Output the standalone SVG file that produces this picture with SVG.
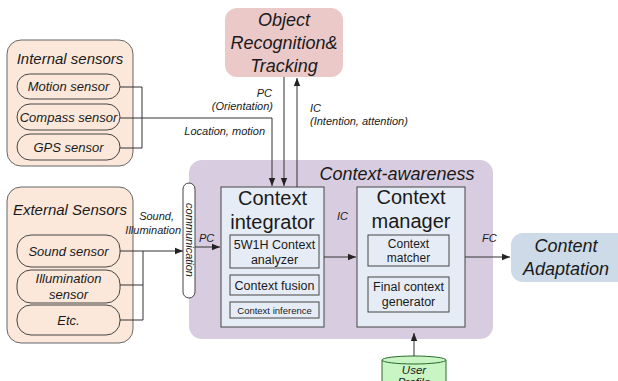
<svg xmlns="http://www.w3.org/2000/svg" width="618" height="381" viewBox="0 0 618 381">
  <style>
    text { font-family: "Liberation Sans", Arial, sans-serif; fill: #1a1a1a; }
    .it { font-style: italic; }
    .group { fill: #fbe8da; stroke: #666; stroke-width: 1; }
    .pill { fill: #fbe8da; stroke: #444; stroke-width: 1; }
    .module { fill: #e6ecf6; stroke: #444; stroke-width: 1; }
    .sub { fill: #e6ecf6; stroke: #444; stroke-width: 1; }
    .wire { fill: none; stroke: #333; stroke-width: 1; }
    .arrow { fill: none; stroke: #333; stroke-width: 1; marker-end: url(#head); }
    .lbl { font-size: 11px; font-style: italic; }
  </style>
  <defs>
    <marker id="head" viewBox="0 0 10 10" refX="10" refY="5" markerWidth="8" markerHeight="8" markerUnits="userSpaceOnUse" orient="auto">
      <path d="M0,1 L10,5 L0,9 z" fill="#222"/>
    </marker>
  </defs>

  <!-- Context-awareness container -->
  <g id="context-awareness">
    <rect x="189" y="160" width="304" height="179" rx="13" fill="#d8cde0"/>
    <text class="it" x="397" y="180" font-size="18" text-anchor="middle">Context-awareness</text>
  </g>

  <!-- Internal sensors -->
  <g id="internal-sensors">
    <rect class="group" x="7" y="40" width="126" height="126" rx="14"/>
    <text class="it" x="70" y="64" font-size="15" text-anchor="middle">Internal sensors</text>
    <rect class="pill" x="17" y="74" width="103" height="25" rx="12.5"/>
    <text class="it" x="68.5" y="91" font-size="13" text-anchor="middle">Motion sensor</text>
    <rect class="pill" x="17" y="104" width="103" height="26" rx="13"/>
    <text class="it" x="68.5" y="122" font-size="13" text-anchor="middle">Compass sensor</text>
    <rect class="pill" x="17" y="134" width="103" height="26" rx="13"/>
    <text class="it" x="68.5" y="152" font-size="13" text-anchor="middle">GPS sensor</text>
  </g>

  <!-- External sensors -->
  <g id="external-sensors">
    <rect class="group" x="7" y="187" width="126" height="156" rx="14"/>
    <text class="it" x="70" y="215" font-size="15" text-anchor="middle">External Sensors</text>
    <rect class="pill" x="17" y="235" width="103" height="32" rx="14"/>
    <text class="it" x="68.5" y="256" font-size="13" text-anchor="middle">Sound sensor</text>
    <rect class="pill" x="17" y="270" width="103" height="33" rx="14"/>
    <text class="it" x="68.5" y="283" font-size="13" text-anchor="middle">Illumination</text>
    <text class="it" x="68.5" y="299" font-size="13" text-anchor="middle">sensor</text>
    <rect class="pill" x="17" y="305" width="103" height="30" rx="14"/>
    <text class="it" x="68.5" y="325" font-size="13" text-anchor="middle">Etc.</text>
  </g>

  <!-- Object Recognition & Tracking -->
  <g id="object-recognition">
    <rect x="225" y="8" width="118" height="69" rx="12" fill="#ecc9c9"/>
    <text class="it" x="284" y="26" font-size="18" text-anchor="middle">Object</text>
    <text class="it" x="284" y="49" font-size="18" text-anchor="middle">Recognition&amp;</text>
    <text class="it" x="284" y="72" font-size="18" text-anchor="middle">Tracking</text>
  </g>

  <!-- Communication channel -->
  <g id="communication">
    <rect x="183" y="183" width="12" height="115" rx="6" fill="#ffffff" stroke="#444" stroke-width="1"/>
    <text class="it" font-size="11" text-anchor="middle" transform="translate(186,240) rotate(90)">communication</text>
  </g>

  <!-- Context integrator -->
  <g id="context-integrator">
    <rect class="module" x="221" y="187" width="103" height="140"/>
    <text x="272.5" y="205" font-size="20" text-anchor="middle">Context</text>
    <text x="272.5" y="229" font-size="20" text-anchor="middle">integrator</text>
    <rect class="sub" x="230" y="235" width="89" height="33"/>
    <text x="274.5" y="249" font-size="12.5" text-anchor="middle">5W1H Context</text>
    <text x="274.5" y="264" font-size="12.5" text-anchor="middle">analyzer</text>
    <rect class="sub" x="230" y="275" width="89" height="20"/>
    <text x="274.5" y="290" font-size="12.5" text-anchor="middle">Context fusion</text>
    <rect class="sub" x="230" y="302" width="89" height="16"/>
    <text x="274.5" y="314" font-size="9.5" text-anchor="middle">Context inference</text>
  </g>

  <!-- Context manager -->
  <g id="context-manager">
    <rect class="module" x="357" y="187" width="108" height="140"/>
    <text x="411" y="204" font-size="20" text-anchor="middle">Context</text>
    <text x="411" y="228" font-size="20" text-anchor="middle">manager</text>
    <rect class="sub" x="368" y="235" width="81" height="31"/>
    <text x="408.5" y="248" font-size="12" text-anchor="middle">Context</text>
    <text x="408.5" y="262" font-size="12" text-anchor="middle">matcher</text>
    <rect class="sub" x="368" y="277" width="81" height="35"/>
    <text x="408.5" y="291" font-size="12.5" text-anchor="middle">Final context</text>
    <text x="408.5" y="306" font-size="12.5" text-anchor="middle">generator</text>
  </g>

  <!-- Content Adaptation -->
  <g id="content-adaptation">
    <rect x="511" y="233" width="120" height="49" rx="12" fill="#cddae7"/>
    <text class="it" x="566" y="252" font-size="18" text-anchor="middle">Content</text>
    <text class="it" x="566" y="275" font-size="18" text-anchor="middle">Adaptation</text>
  </g>

  <!-- User Profile store -->
  <g id="user-profile">
    <path d="M382,360 L382,390 L446,390 L446,360" fill="#c8f5c3" stroke="#2a6a2a" stroke-width="1"/>
    <ellipse cx="414" cy="360" rx="32" ry="4" fill="#c8f5c3" stroke="#2a6a2a" stroke-width="1"/>
    <text class="it" x="414" y="374" font-size="11.5" text-anchor="middle">User</text>
    <text class="it" x="414" y="386" font-size="11.5" text-anchor="middle">Profile</text>
  </g>

  <!-- Connectors -->
  <g id="connectors">
    <!-- internal sensors bus -->
    <path class="wire" d="M120,87 H142 V148 H120"/>
    <path class="arrow" d="M120,118 H272 V186"/>
    <!-- object recognition links -->
    <path class="arrow" d="M284,77 V186"/>
    <path class="arrow" d="M297,187 V78"/>
    <!-- external sensors bus -->
    <path class="wire" d="M120,285 H143 M120,320 H143 M143,251 V320"/>
    <path class="arrow" d="M120,251 H183"/>
    <!-- communication to integrator -->
    <path class="arrow" d="M195,247 H220"/>
    <!-- integrator to manager -->
    <path class="arrow" d="M324,257 H356"/>
    <!-- manager to content adaptation -->
    <path class="arrow" d="M465,257 H510"/>
    <!-- user profile to manager -->
    <path class="arrow" d="M414,356 V333"/>
  </g>

  <!-- Connector labels -->
  <g id="labels">
    <text class="lbl" x="272" y="97" text-anchor="end">PC</text>
    <text class="lbl" x="273" y="110" text-anchor="end">(Orientation)</text>
    <text class="lbl" x="265" y="135" text-anchor="end">Location, motion</text>
    <text class="lbl" x="310" y="112">IC</text>
    <text class="lbl" x="310" y="125">(Intention, attention)</text>
    <text class="lbl" x="174" y="220" text-anchor="end">Sound,</text>
    <text class="lbl" x="181" y="234" text-anchor="end">Illumination</text>
    <text class="lbl" x="199" y="242">PC</text>
    <text class="lbl" x="337" y="220">IC</text>
    <text class="lbl" x="482" y="242">FC</text>
  </g>
</svg>
